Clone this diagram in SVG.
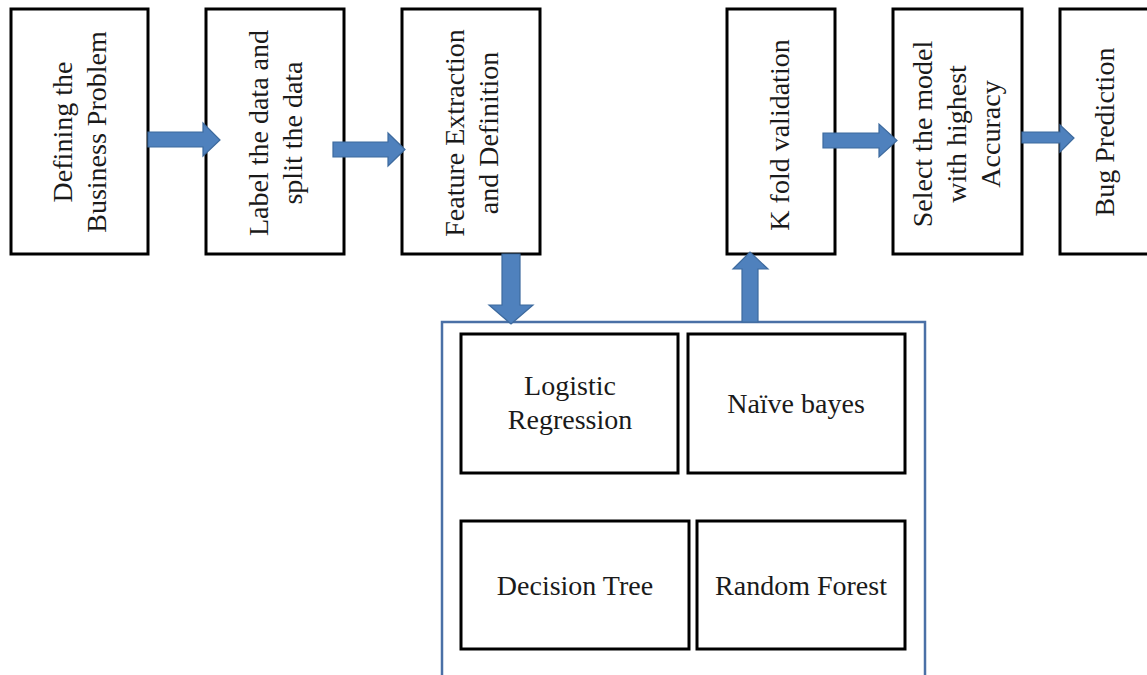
<svg xmlns="http://www.w3.org/2000/svg" width="1147" height="675" viewBox="0 0 1147 675">
<style>
.box{fill:#fff;stroke:#000;stroke-width:3}
.cont{fill:#fff;stroke:#4A70A6;stroke-width:2.5}
.arr{fill:#4F81BD;stroke:#3D6A9E;stroke-width:1.2;stroke-linejoin:miter}
text{font-family:"Liberation Serif","Times New Roman",serif;font-size:28px;fill:#1a1a1a;text-anchor:middle}
</style>
<rect width="1147" height="675" fill="#fff"/>
<g id="models-container">
<rect class="cont" x="442" y="322" width="483" height="420"/>
</g>
<g id="n1"><rect class="box" x="11" y="9" width="137" height="245"/>
<text transform="translate(0,132) rotate(-90)"><tspan x="0" y="72">Defining the</tspan><tspan x="0" y="106">Business Problem</tspan></text></g>
<g id="n2"><rect class="box" x="206" y="9" width="138" height="245"/>
<text transform="translate(0,133) rotate(-90)"><tspan x="0" y="268">Label the data and</tspan><tspan x="0" y="302">split the data</tspan></text></g>
<g id="n3"><rect class="box" x="402" y="9" width="138" height="245"/>
<text transform="translate(0,133) rotate(-90)"><tspan x="0" y="464">Feature Extraction</tspan><tspan x="0" y="498">and Definition</tspan></text></g>
<g id="n4"><rect class="box" x="727" y="9" width="108" height="245"/>
<text transform="translate(0,135) rotate(-90)"><tspan x="0" y="789">K fold validation</tspan></text></g>
<g id="n5"><rect class="box" x="893" y="9" width="129" height="245"/>
<text transform="translate(0,134) rotate(-90)"><tspan x="0" y="932">Select the model</tspan><tspan x="0" y="966">with highest</tspan><tspan x="0" y="1000">Accuracy</tspan></text></g>
<g id="n6"><rect class="box" x="1060" y="9" width="110" height="245"/>
<text transform="translate(0,132) rotate(-90)"><tspan x="0" y="1114">Bug Prediction</tspan></text></g>
<g id="m1"><rect class="box" x="461" y="334" width="217" height="139"/>
<text x="570" y="395">Logistic</text><text x="570" y="429">Regression</text></g>
<g id="m2"><rect class="box" x="688" y="334" width="217" height="139"/>
<text x="796" y="413">Naïve bayes</text></g>
<g id="m3"><rect class="box" x="461" y="521" width="228" height="128"/>
<text x="575" y="595">Decision Tree</text></g>
<g id="m4"><rect class="box" x="697" y="521" width="208" height="128"/>
<text x="801" y="595">Random Forest</text></g>
<g id="connectors">
<polygon class="arr" points="148,132 203,132 203,123 220,140 203,156 203,147 148,147"/>
<polygon class="arr" points="333,142 388,142 388,133 405,149.5 388,166 388,157 333,157"/>
<polygon class="arr" points="502,254 520,254 520,305 533,305 511,324 489,305 502,305"/>
<polygon class="arr" points="742,322 758,322 758,269 768,269 750,252 733,269 742,269"/>
<polygon class="arr" points="823,133 879,133 879,124 897,140.5 879,157 879,148 823,148"/>
<polygon class="arr" points="1022,132 1060,132 1060,125 1074,138 1060,152 1060,143 1022,143"/>
</g>
</svg>
